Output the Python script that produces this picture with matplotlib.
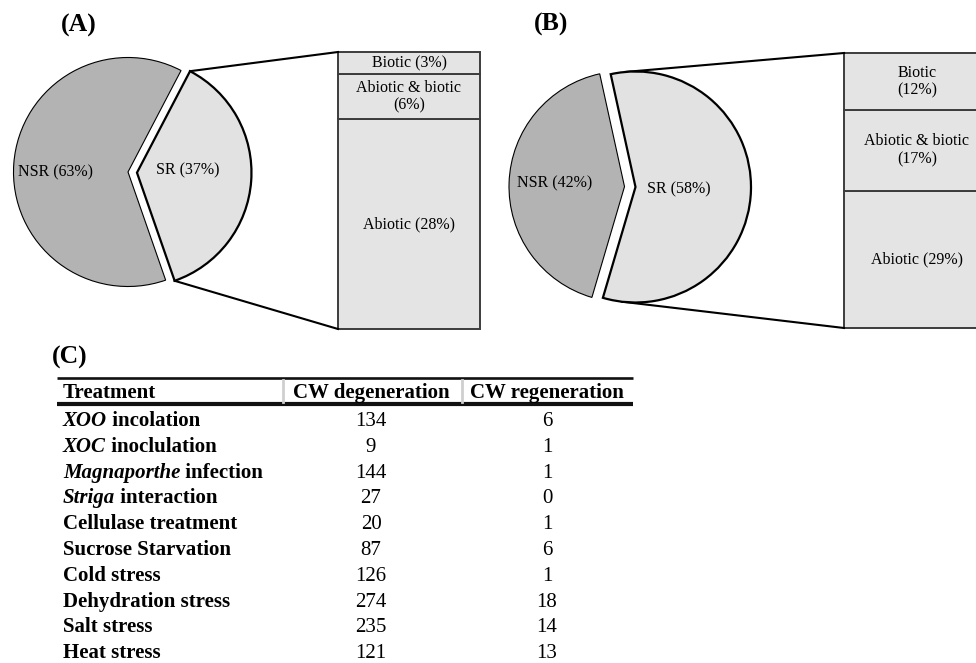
import numpy as np
import matplotlib.pyplot as plt

plt.rcParams['font.family'] = ['Liberation Serif', 'DejaVu Serif']

W, H = 976, 663

# (A), (B): stress responsive (SR) vs non stress responsive (NSR), in %
pie_names = ['SR', 'NSR']
pie_a = [37, 63]
pie_b = [58, 42]

# split of the SR part, bottom to top
sr_names = ['Abiotic', 'Abiotic & biotic', 'Biotic']
sr_a = [28, 6, 3]
sr_b = [29, 17, 12]

# (C) table
treat_it = ['XOO', 'XOC', 'Magnaporthe', 'Striga', '', '', '', '', '', '']
treat_rest = [' incolation', ' inoclulation', ' infection', ' interaction',
              'Cellulase treatment', 'Sucrose Starvation', 'Cold stress',
              'Dehydration stress', 'Salt stress', 'Heat stress']
cw_degen = [134, 9, 144, 27, 20, 87, 126, 274, 235, 121]
cw_regen = [6, 1, 1, 0, 1, 6, 1, 18, 14, 13]
col_names = ['Treatment', 'CW degeneration', 'CW regeneration']

NSR_COL = '#b2b3b2'
SR_COL = '#e2e2e2'
BOX_COL = '#e4e4e4'


def py(y):  # pixel row -> data y
    return H - y


def attach(w, corner, upper):
    # tangent point from the box corner, kept inside the wedge
    cx, cy = w.center
    dx, dy = corner[0] - cx, corner[1] - cy
    phi = np.degrees(np.arctan2(dy, dx))
    off = np.degrees(np.arccos(w.r / np.hypot(dx, dy)))
    t = min(phi + off, w.theta2) if upper else max(phi - off, w.theta1)
    t = np.radians(t)
    return cx + w.r * np.cos(t), cy + w.r * np.sin(t)


def panel(ax, vals, split, seps, center, r, start, explode, lab_xy,
          box_x0, box_w, box_top, box_bot):
    wedges, _ = ax.pie(vals, colors=[SR_COL, NSR_COL], startangle=start,
                       counterclock=True, explode=explode, radius=r,
                       center=(center[0], py(center[1])), frame=True,
                       wedgeprops=dict(edgecolor='black', linewidth=0.8))
    wedges[0].set_linewidth(1.6)
    wedges[0].set_zorder(3)
    for name, v, (lx, ly) in zip(pie_names, vals, lab_xy):
        ax.text(lx, py(ly), f'{name} ({v}%)', ha='center', va='center',
                fontsize=11.5, zorder=5)

    # stacked box with SR split
    scale = (box_bot - box_top) / sum(split)
    hs = np.array(split) * scale
    bots = py(box_bot) + np.concatenate([[0], np.cumsum(hs)[:-1]])
    xc = box_x0 + box_w / 2
    ax.bar([xc] * len(hs), hs, width=box_w, bottom=bots, color=BOX_COL,
           edgecolor='#3c3c3c', linewidth=1.4, zorder=2)
    for name, v, s, h, b in zip(sr_names, split, seps, hs, bots):
        ax.text(xc, b + h / 2, f'{name}{s}({v}%)', ha='center', va='center',
                fontsize=11.5, linespacing=1.15, zorder=5)

    # connector lines
    top_c = (box_x0, py(box_top))
    bot_c = (box_x0, py(box_bot))
    p1 = attach(wedges[0], top_c, True)
    p2 = attach(wedges[0], bot_c, False)
    ax.plot([p1[0], top_c[0]], [p1[1], top_c[1]], color='black', lw=1.5)
    ax.plot([p2[0], bot_c[0]], [p2[1], bot_c[1]], color='black', lw=1.5)


fig = plt.figure(figsize=(W / 100, H / 100), dpi=100)
ax = fig.add_axes([0, 0, 1, 1])

panel(ax, pie_a, sr_a, [' ', '\n', ' '], (128, 172), 114.5, -70.8, [9, 0],
      [(188, 170), (56, 172)], 338, 142, 52, 329)
panel(ax, pie_b, sr_b, [' ', '\n', '\n'], (635.5, 187), 115.5, -106.4, [0, 11],
      [(679, 189), (554.5, 183)], 844, 146, 53, 328)

ax.text(79, py(25), '(A)', ha='center', va='center', fontsize=18.5, weight='bold')
ax.text(551, py(24), '(B)', ha='center', va='center', fontsize=18.5, weight='bold')
ax.text(70, py(357), '(C)', ha='center', va='center', fontsize=18.5, weight='bold')

# table (C)
ax.plot([57, 633], [py(378)] * 2, color='#111111', lw=1.9, solid_capstyle='butt')
ax.plot([57, 633], [py(404)] * 2, color='#111111', lw=3.0, solid_capstyle='butt')
for x in (283, 462):
    ax.plot([x, x], [py(380), py(402)], color='#cfcfcf', lw=2)

FS = 15
col_x = [63, 371, 547]
ax.text(col_x[0], py(391 + 7), col_names[0], ha='left', va='baseline',
        fontsize=FS, weight='bold')
for x, name in zip(col_x[1:], col_names[1:]):
    ax.text(x, py(391 + 7), name, ha='center', va='baseline', fontsize=FS,
            weight='bold')

for i, (it, rest, d, g) in enumerate(zip(treat_it, treat_rest, cw_degen, cw_regen)):
    y = py(419 + 25.8 * i + 7)
    if it:
        t = ax.text(col_x[0], y, it, ha='left', va='baseline', fontsize=FS,
                    weight='bold', style='italic')
        ax.annotate(rest, xy=(1, 0), xycoords=t, ha='left', va='bottom',
                    fontsize=FS, weight='bold')
    else:
        ax.text(col_x[0], y, rest, ha='left', va='baseline', fontsize=FS,
                weight='bold')
    ax.text(col_x[1], y, str(d), ha='center', va='baseline', fontsize=FS)
    ax.text(col_x[2], y, str(g), ha='center', va='baseline', fontsize=FS)

ax.set_xlim(0, W)
ax.set_ylim(0, H)
ax.axis('off')

fig.savefig('out.png', dpi=100)
